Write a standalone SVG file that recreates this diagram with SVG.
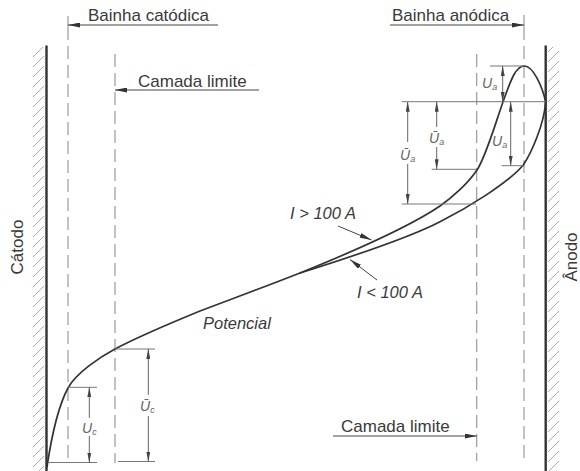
<svg xmlns="http://www.w3.org/2000/svg" width="580" height="471" viewBox="0 0 580 471">
<style>
.bg{fill:#ffffff}
.wall{stroke:#333;stroke-width:2.4;fill:none}
.dash{stroke:#9a9a9a;stroke-width:1.2;fill:none;stroke-dasharray:13 6}
.solidb{stroke:#9a9a9a;stroke-width:1.2;fill:none}
.curve{stroke:#333;stroke-width:1.7;fill:none;stroke-linecap:round}
.ext{stroke:#777;stroke-width:1;fill:none}
.dim{stroke:#666;stroke-width:1;fill:none}
.lead{stroke:#444;stroke-width:1;fill:none}
.lbl{font-family:"Liberation Sans",Arial,sans-serif;font-size:17px;fill:#3a3a3a}
.it{font-family:"Liberation Sans",Arial,sans-serif;font-size:16.5px;font-style:italic;fill:#3a3a3a}
.dl{font-family:"Liberation Sans",Arial,sans-serif;font-size:14px;font-style:italic;fill:#666}
.sub{font-size:9px}
</style>
<defs>
<pattern id="hatch" patternUnits="userSpaceOnUse" width="10" height="10">
<path d="M-1,11 L11,-1" stroke="#a0a0a0" stroke-width="0.9"/>
</pattern>
<marker id="ah" viewBox="0 0 10 4" refX="10" refY="2" markerWidth="10" markerHeight="4" markerUnits="userSpaceOnUse" orient="auto-start-reverse">
<path d="M0,0 L10,2 L0,4 z" fill="#444"/>
</marker>
<marker id="lh" viewBox="0 0 12 5" refX="12" refY="2.5" markerWidth="12" markerHeight="5" markerUnits="userSpaceOnUse" orient="auto">
<path d="M0,0 L12,2.5 L0,5 z" fill="#333"/>
</marker>
</defs>
<rect class="bg" x="0" y="0" width="580" height="471"/>

<g id="cathode">
<rect x="33" y="47" width="11" height="424" fill="url(#hatch)"/>
<line class="wall" x1="46.5" y1="45.5" x2="46.5" y2="471"/>
<text class="lbl" transform="translate(23,247) rotate(-90)" text-anchor="middle">Cátodo</text>
</g>

<g id="anode">
<rect x="548" y="47" width="11" height="424" fill="url(#hatch)"/>
<line class="wall" x1="545.7" y1="45.5" x2="545.7" y2="471"/>
<text class="lbl" transform="translate(577,257) rotate(-90)" text-anchor="middle">Ânodo</text>
</g>

<g id="boundaries">
<line class="solidb" x1="68" y1="16" x2="68" y2="40"/>
<line class="dash" x1="68" y1="46" x2="68" y2="463"/>
<line class="dash" x1="115" y1="54" x2="115" y2="463"/>
<line class="dash" x1="476.7" y1="54" x2="476.7" y2="461"/>
<line class="solidb" x1="524" y1="15" x2="524" y2="40"/>
<line class="dash" x1="524" y1="46" x2="524" y2="461"/>
</g>

<g id="curves">
<path id="curve-high" class="curve" d="M47,467 C51,440 58,406.5 68,388 C76,373.2 100,357 115,349 C140,335.7 172,322.5 200,311 C233,298.5 267,286 300,273 C347,254 410,226.4 440,206 C452,197.8 468,183.5 477,170 C486,156.5 496,121.25 503,102 C510,82.75 515,66 524.5,66 C533,66 542,86 545.7,101.7"/>
<path id="curve-low" class="curve" d="M300,273 C335,262 405,240 440,221.7 C468,207.7 508,183 523.3,165 C531,153.5 544,125 545.7,101.7"/>
</g>

<g id="connectors">
<line class="lead" x1="218" y1="25" x2="68" y2="25" marker-end="url(#lh)"/>
<line class="lead" x1="259" y1="90" x2="115" y2="90" marker-end="url(#lh)"/>
<line class="lead" x1="390" y1="25" x2="524" y2="25" marker-end="url(#lh)"/>
<line class="lead" x1="333" y1="436" x2="476.7" y2="436" marker-end="url(#lh)"/>
<line class="lead" x1="338" y1="226" x2="371.5" y2="240" marker-end="url(#lh)"/>
<line class="lead" x1="377" y1="280" x2="350" y2="259.5" marker-end="url(#lh)"/>
</g>

<g id="dimensions-anode">
<line class="ext" x1="401.7" y1="101.7" x2="545.7" y2="101.7"/>
<line class="ext" x1="490" y1="66" x2="524" y2="66"/>
<line class="ext" x1="401.7" y1="204" x2="476" y2="204"/>
<line class="ext" x1="431.7" y1="169.3" x2="476" y2="169.3"/>
<line class="ext" x1="501.7" y1="165.7" x2="523" y2="165.7"/>
<line class="dim" x1="502.7" y1="66" x2="502.7" y2="101.7" marker-start="url(#ah)" marker-end="url(#ah)"/>
<line class="dim" x1="510.7" y1="101.7" x2="510.7" y2="165.7" marker-start="url(#ah)" marker-end="url(#ah)"/>
<line class="dim" x1="436.7" y1="127" x2="436.7" y2="101.7" marker-end="url(#ah)"/>
<line class="dim" x1="436.7" y1="147" x2="436.7" y2="169.3" marker-end="url(#ah)"/>
<line class="dim" x1="407.7" y1="142" x2="407.7" y2="101.7" marker-end="url(#ah)"/>
<line class="dim" x1="407.7" y1="164" x2="407.7" y2="204" marker-end="url(#ah)"/>
<text class="dl" x="482" y="88">U<tspan class="sub" dy="2">a</tspan></text>
<text class="dl" x="492" y="146">U<tspan class="sub" dy="2">a</tspan></text>
<text class="dl" x="429" y="143">Ū<tspan class="sub" dy="2">a</tspan></text>
<text class="dl" x="400" y="160">Ū<tspan class="sub" dy="2">a</tspan></text>
</g>

<g id="dimensions-cathode">
<line class="ext" x1="68" y1="387.3" x2="97" y2="387.3"/>
<line class="ext" x1="48" y1="462.5" x2="97" y2="462.5"/>
<line class="ext" x1="115" y1="349" x2="155" y2="349"/>
<line class="ext" x1="118" y1="461.5" x2="155" y2="461.5"/>
<line class="dim" x1="89.3" y1="418" x2="89.3" y2="387.3" marker-end="url(#ah)"/>
<line class="dim" x1="89.3" y1="436" x2="89.3" y2="462.5" marker-end="url(#ah)"/>
<line class="dim" x1="148.3" y1="395" x2="148.3" y2="349" marker-end="url(#ah)"/>
<line class="dim" x1="148.3" y1="416" x2="148.3" y2="461.5" marker-end="url(#ah)"/>
<text class="dl" x="82" y="433">U<tspan class="sub" dy="2">c</tspan></text>
<text class="dl" x="140" y="411">Ū<tspan class="sub" dy="2">c</tspan></text>
</g>

<g id="labels">
<text class="lbl" x="88" y="21">Bainha catódica</text>
<text class="lbl" x="138" y="87">Camada limite</text>
<text class="lbl" x="392" y="21">Bainha anódica</text>
<text class="lbl" x="341" y="432">Camada limite</text>
<text class="it" x="290" y="219">I &gt; 100 A</text>
<text class="it" x="357" y="297.5">I &lt; 100 A</text>
<text class="it" x="203" y="329">Potencial</text>
</g>
</svg>
